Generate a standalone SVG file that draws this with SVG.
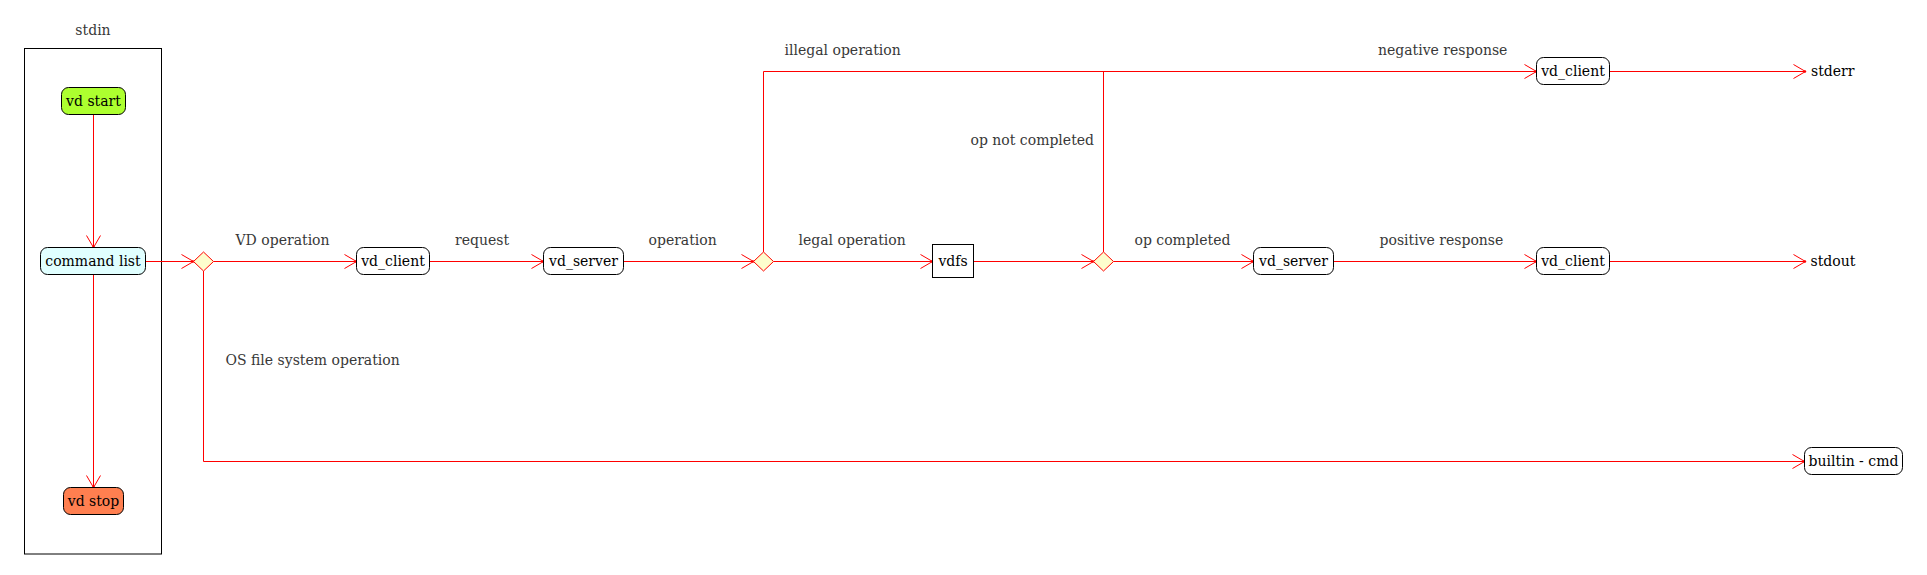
<svg xmlns="http://www.w3.org/2000/svg" width="1927" height="575" viewBox="0 0 1927 575">
<style>
text{font-family:"DejaVu Serif","Liberation Serif",serif;font-size:14px}
.lbl{fill:#383838}
.nt{fill:#000;text-anchor:middle}
.box{stroke:#000;stroke-width:1;fill:#fff}
.dia{fill:#FEFECE;stroke:#FF0000;stroke-width:1}
.edge{fill:none;stroke:#FF0000;stroke-width:1}
</style>
<defs>
<marker id="arr" markerUnits="userSpaceOnUse" markerWidth="16" markerHeight="18" refX="13" refY="8" orient="auto" overflow="visible">
<path d="M1,1 L13,8 L1,15" fill="none" stroke="#FF0000" stroke-width="1"/>
<circle cx="12.5" cy="8" r="1.2" fill="#FF0000"/>
</marker>
</defs>
<rect width="1927" height="575" fill="#fff"/>
<g id="stdin">
<rect x="24.5" y="48.5" width="137" height="505.5" fill="none" stroke="#000" stroke-width="1"/>
<text x="93" y="35" class="lbl" text-anchor="middle">stdin</text>
</g>
<g id="edges">
<path class="edge" d="M93.5,114.5 V247.5" marker-end="url(#arr)"/>
<path class="edge" d="M93.5,274.5 V487.5" marker-end="url(#arr)"/>
<path class="edge" d="M146,261.5 H193.5" marker-end="url(#arr)"/>
<path class="edge" d="M213.5,261.5 H356.5" marker-end="url(#arr)"/>
<path class="edge" d="M429.5,261.5 H543.5" marker-end="url(#arr)"/>
<path class="edge" d="M623.5,261.5 H753.5" marker-end="url(#arr)"/>
<path class="edge" d="M773.5,261.5 H932.5" marker-end="url(#arr)"/>
<path class="edge" d="M973.5,261.5 H1093.5" marker-end="url(#arr)"/>
<path class="edge" d="M1113.5,261.5 H1253.5" marker-end="url(#arr)"/>
<path class="edge" d="M1333.5,261.5 H1536.5" marker-end="url(#arr)"/>
<path class="edge" d="M1609.5,261.5 H1805.5" marker-end="url(#arr)"/>
<path class="edge" d="M763.5,252 V71.5 H1536.5" marker-end="url(#arr)"/>
<path class="edge" d="M1103.5,252 V71.5"/>
<path class="edge" d="M1609.5,71.5 H1805.5" marker-end="url(#arr)"/>
<path class="edge" d="M203.5,271 V461.5 H1804.5" marker-end="url(#arr)"/>
<text class="lbl" x="235.5" y="245">VD operation</text>
<text class="lbl" x="455" y="245">request</text>
<text class="lbl" x="648.5" y="245">operation</text>
<text class="lbl" x="798.5" y="245">legal operation</text>
<text class="lbl" x="784.5" y="55">illegal operation</text>
<text class="lbl" x="970.5" y="145">op not completed</text>
<text class="lbl" x="1134.5" y="245">op completed</text>
<text class="lbl" x="1378" y="55">negative response</text>
<text class="lbl" x="1379.5" y="245">positive response</text>
<text class="lbl" x="225.5" y="365">OS file system operation</text>
</g>
<g id="vd_start"><rect class="box" x="61.5" y="87.5" width="64" height="27" rx="7" fill="#ADFF2F" style="fill:#ADFF2F"/><text class="nt" x="93.5" y="106">vd start</text></g>
<g id="command_list"><rect class="box" x="40.5" y="247.5" width="105" height="27" rx="7" style="fill:#E0FFFF"/><text class="nt" x="93" y="266">command list</text></g>
<g id="vd_stop"><rect class="box" x="63.5" y="487.5" width="60" height="27" rx="7" style="fill:#FF7F50"/><text class="nt" x="93.5" y="506">vd stop</text></g>
<g id="d1"><path class="dia" d="M203.5,252 L213.5,261.5 L203.5,271 L193.5,261.5 Z"/></g>
<g id="vd_client1"><rect class="box" x="356.5" y="247.5" width="73" height="27" rx="7"/><text class="nt" x="393" y="266">vd_client</text></g>
<g id="vd_server1"><rect class="box" x="543.5" y="247.5" width="80" height="27" rx="7"/><text class="nt" x="583.5" y="266">vd_server</text></g>
<g id="d2"><path class="dia" d="M763.5,252 L773.5,261.5 L763.5,271 L753.5,261.5 Z"/></g>
<g id="vdfs"><rect class="box" x="932.5" y="244.5" width="41" height="33"/><text class="nt" x="953" y="266">vdfs</text></g>
<g id="d3"><path class="dia" d="M1103.5,252 L1113.5,261.5 L1103.5,271 L1093.5,261.5 Z"/></g>
<g id="vd_server2"><rect class="box" x="1253.5" y="247.5" width="80" height="27" rx="7"/><text class="nt" x="1293.5" y="266">vd_server</text></g>
<g id="vd_client2"><rect class="box" x="1536.5" y="247.5" width="73" height="27" rx="7"/><text class="nt" x="1573" y="266">vd_client</text></g>
<g id="vd_client3"><rect class="box" x="1536.5" y="57.5" width="73" height="27" rx="7"/><text class="nt" x="1573" y="76">vd_client</text></g>
<g id="stderr"><text x="1811" y="76" fill="#000">stderr</text></g>
<g id="stdout"><text x="1810.5" y="266" fill="#000">stdout</text></g>
<g id="builtin_cmd"><rect class="box" x="1804.5" y="447.5" width="98" height="27" rx="7"/><text class="nt" x="1853.5" y="466">builtin - cmd</text></g>
</svg>
